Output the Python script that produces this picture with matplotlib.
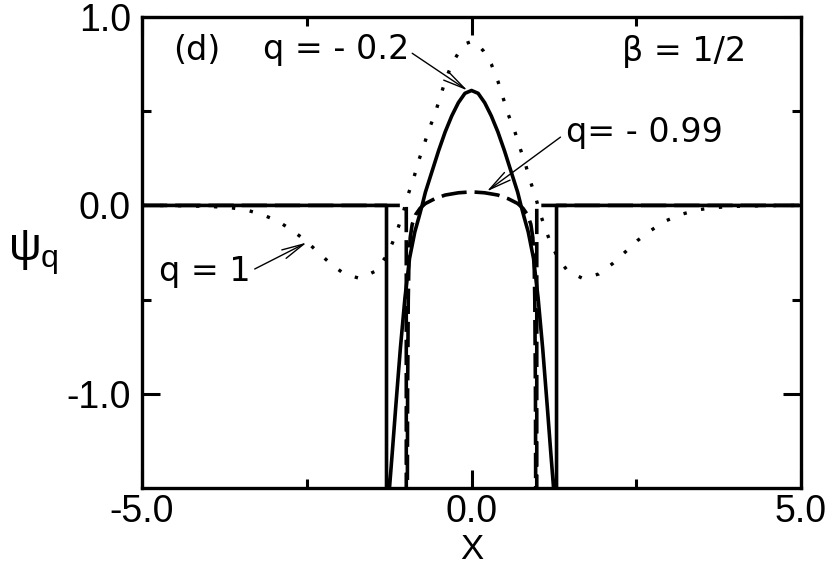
import matplotlib
matplotlib.use("Agg")
import matplotlib.pyplot as plt

plt.rcParams["font.family"] = ["Liberation Sans", "DejaVu Sans"]
plt.rcParams["mathtext.fontset"] = "custom"
plt.rcParams["mathtext.rm"] = "Liberation Sans"
plt.rcParams["mathtext.it"] = "Liberation Sans"

# q = -0.2 (solid)
x_q02 = [-5.0, -1.29, -1.29, -1.27, -1.245, -1.20, -1.15, -1.08, -1.01, -0.94, -0.86,
         -0.80, -0.75, -0.70, -0.60, -0.50, -0.40, -0.30, -0.20, -0.10, 0.0,
         0.10, 0.20, 0.30, 0.40, 0.50, 0.60, 0.70, 0.75, 0.80, 0.86, 0.94, 1.01,
         1.08, 1.15, 1.20, 1.245, 1.27, 1.29, 1.29, 5.0]
y_q02 = [0.0, 0.0, -1.7, -1.65, -1.50, -1.30, -1.07, -0.76, -0.49, -0.28, -0.14,
         -0.065, 0.0, 0.07, 0.18, 0.29, 0.39, 0.475, 0.545, 0.595, 0.61,
         0.595, 0.545, 0.475, 0.39, 0.29, 0.18, 0.07, 0.0, -0.065, -0.14, -0.28, -0.49,
         -0.76, -1.07, -1.30, -1.50, -1.65, -1.7, 0.0, 0.0]

# q = -0.99 (dashed)
x_q099 = [-5.0, -0.99, -0.99, -0.975, -0.97, -0.96, -0.95, -0.93, -0.90, -0.85, -0.78,
          -0.70, -0.56, -0.40, -0.20, 0.0, 0.20, 0.40, 0.56, 0.70, 0.78, 0.85,
          0.90, 0.93, 0.95, 0.96, 0.97, 0.975, 0.99, 0.99, 5.0]
y_q099 = [0.0, 0.0, -1.7, -1.7, -1.0, -0.50, -0.30, -0.17, -0.10, -0.05, -0.015,
          0.01, 0.035, 0.055, 0.067, 0.072, 0.067, 0.055, 0.035, 0.01, -0.015, -0.05,
          -0.10, -0.17, -0.30, -0.50, -1.0, -1.7, -1.7, 0.0, 0.0]

# q = 1 (dotted)
x_q1 = [-5.0, -4.5, -4.0, -3.66, -3.41, -3.18, -2.94, -2.72, -2.52, -2.33, -2.14,
        -1.93, -1.69, -1.46, -1.31, -1.20, -1.11, -1.03, -0.96, -0.88, -0.81, -0.73,
        -0.65, -0.56, -0.48, -0.40, -0.30, -0.18, -0.08, 0.0,
        0.08, 0.18, 0.30, 0.40, 0.48, 0.56, 0.65, 0.73, 0.81, 0.88, 0.96, 1.03,
        1.11, 1.20, 1.31, 1.46, 1.69, 1.93, 2.14, 2.33, 2.52, 2.72, 2.94, 3.18,
        3.41, 3.66, 4.0, 4.5, 5.0]
y_q1 = [0.0, -0.001, -0.005, -0.012, -0.025, -0.048, -0.083, -0.133, -0.186, -0.248, -0.309,
        -0.364, -0.388, -0.349, -0.278, -0.199, -0.115, -0.03, 0.06, 0.14, 0.23, 0.31,
        0.40, 0.48, 0.57, 0.66, 0.75, 0.82, 0.86, 0.87,
        0.86, 0.82, 0.75, 0.66, 0.57, 0.48, 0.40, 0.31, 0.23, 0.14, 0.06, -0.03,
        -0.115, -0.199, -0.278, -0.349, -0.388, -0.364, -0.309, -0.248, -0.186, -0.133, -0.083, -0.048,
        -0.025, -0.012, -0.005, -0.001, 0.0]

x_major = [-5.0, 0.0, 5.0]
x_minor = [-2.5, 2.5]
y_major = [-1.0, 0.0, 1.0]
y_minor = [-0.5, 0.5]

ANNOT_FONT = ["DejaVu Sans"]

fig = plt.figure(figsize=(8.3, 5.67), dpi=100)
ax = fig.add_axes([0.1711, 0.1393, 0.7940, 0.8307])

ax.plot(x_q1, y_q1, color="black", lw=2.4, linestyle=(0, (1, 4.4)),
        dash_capstyle="butt")
ax.plot(x_q099, y_q099, color="black", lw=2.6, linestyle=(0, (7, 2.2)))
ax.plot(x_q02, y_q02, color="black", lw=2.6)

ax.set_xlim(-5, 5)
ax.set_ylim(-1.5, 1.0)

ax.set_xticks(x_major)
ax.set_xticklabels([f"{v:.1f}" for v in x_major])
ax.set_xticks(x_minor, minor=True)
ax.set_yticks(y_major)
ax.set_yticklabels([f"{v:.1f}" for v in y_major])
ax.set_yticks(y_minor, minor=True)

ax.tick_params(which="both", direction="in", top=True, right=True, width=2.2,
               labelsize=27)
ax.tick_params(which="major", length=13, pad=8)
ax.tick_params(axis="x", which="major", pad=4)
ax.tick_params(which="minor", length=6.5)
for spine in ax.spines.values():
    spine.set_linewidth(2.4)

ax.set_xlabel("X", fontsize=25, labelpad=2.5)
ax.set_ylabel(r"$\psi_{q}$", fontsize=33, rotation=0, va="center", ha="center")
ax.yaxis.set_label_coords(-0.165, 0.50)

# 텍스트 / 화살표
txt = dict(transform=ax.transAxes, fontsize=24, ha="center", va="center", family=ANNOT_FONT)
ax.text(0.083, 0.928, "(d)", **txt)
ax.text(0.294, 0.93, "q = - 0.2", **txt)
ax.text(0.822, 0.926, "β = 1/2", **txt)
ax.text(0.763, 0.754, "q= - 0.99", **txt)
ax.text(0.096, 0.459, "q = 1", **txt)

arrow = dict(arrowstyle="->,head_length=0.8,head_width=0.17", lw=1.0, color="black",
             mutation_scale=20, shrinkA=0, shrinkB=0)
ax.annotate("", xy=(-0.06, 0.61), xytext=(0.41, 0.923), textcoords="axes fraction",
            arrowprops=arrow)
ax.annotate("", xy=(0.23, 0.074), xytext=(0.635, 0.745), textcoords="axes fraction",
            arrowprops=arrow)
ax.annotate("", xy=(-2.5, -0.197), xytext=(0.171, 0.465), textcoords="axes fraction",
            arrowprops=arrow)

fig.savefig("out.png", dpi=100, facecolor="white")
